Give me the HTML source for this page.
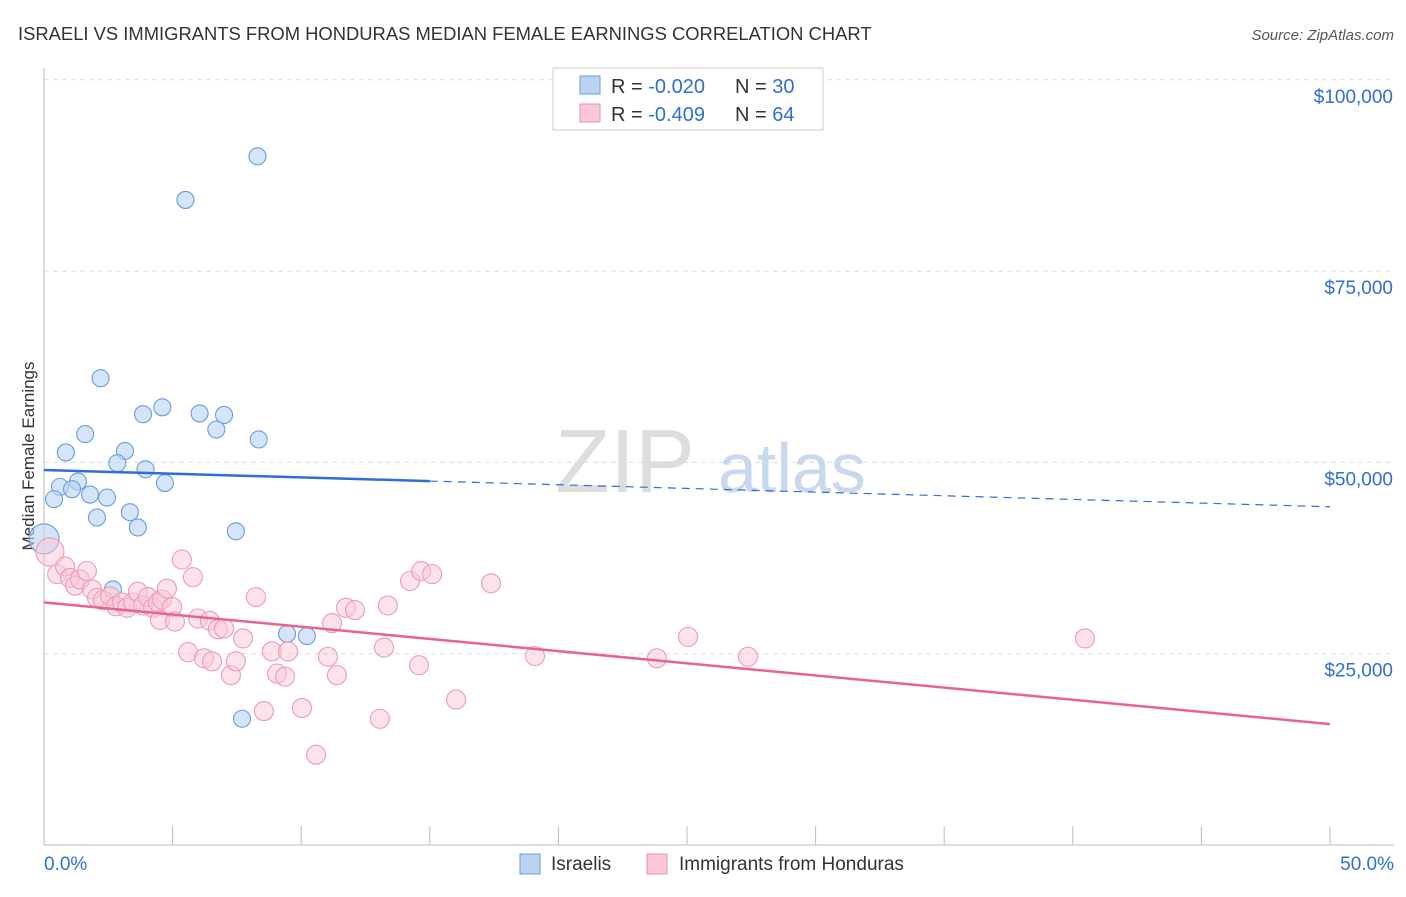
<!DOCTYPE html>
<html><head><meta charset="utf-8"><style>
body{margin:0;background:#fff;font-family:"Liberation Sans",sans-serif;}
svg text{font-family:"Liberation Sans",sans-serif;}
</style></head><body>
<svg id="chart" width="1406" height="892" viewBox="0 0 1406 892">
<text x="18" y="40" font-size="18.4" fill="#333">ISRAELI VS IMMIGRANTS FROM HONDURAS MEDIAN FEMALE EARNINGS CORRELATION CHART</text>
<text x="1394" y="40" font-size="15" fill="#555" font-style="italic" text-anchor="end">Source: ZipAtlas.com</text>
<text x="34" y="456" font-size="17" fill="#333" text-anchor="middle" transform="rotate(-90 34 456)">Median Female Earnings</text>
<g id="grid"></g>
<g id="axes"></g>
<text x="555" y="492" font-size="90" fill="#ddd" font-family="Liberation Serif">ZIP</text>
<text x="718" y="492" font-size="70" fill="#c8d8ee">atlas</text>
<g id="marks"></g>
<g>
<rect x="553" y="68" width="270" height="62" fill="#fff" stroke="#ccc"/>
<rect x="580" y="76" width="20" height="18" fill="#b9d3f3" stroke="#6a9bde"/>
<rect x="580" y="104" width="20" height="18" fill="#f9c7d5" stroke="#ec8fab"/>
<text x="611" y="93" font-size="20" fill="#333">R = <tspan fill="#2e6fd6">-0.020</tspan></text>
<text x="735" y="93" font-size="20" fill="#333">N = <tspan fill="#2e6fd6">30</tspan></text>
<text x="611" y="121" font-size="20" fill="#333">R = <tspan fill="#2e6fd6">-0.409</tspan></text>
<text x="735" y="121" font-size="20" fill="#333">N = <tspan fill="#2e6fd6">64</tspan></text>
</g>
<g>
<rect x="520" y="854" width="20" height="20" fill="#b9d3f3" stroke="#6a9bde"/>
<text x="551" y="870" font-size="19" fill="#333">Israelis</text>
<rect x="647" y="854" width="20" height="20" fill="#f9c7d5" stroke="#ec8fab"/>
<text x="679" y="870" font-size="19" fill="#333">Immigrants from Honduras</text>
</g>
</svg>
<script>
const yTicks=[25000,50000,75000,100000];
const yTickLabels=["$25,000","$50,000","$75,000","$100,000"];
const xTickLabels=["0.0%","50.0%"];
const blueX=[8.3,5.5,2.2,3.85,4.6,6.05,7.0,6.7,8.35,1.6,0.85,3.15,2.85,3.95,4.7,0.62,1.32,1.09,1.79,2.45,0.39,2.06,3.34,3.65,7.46,0.0,2.68,9.45,10.22,7.7];
const blueY=[90000,84300,61000,56300,57200,56400,56200,54300,53000,53700,51300,51500,49900,49100,47300,46800,47500,46500,45800,45400,45200,42800,43500,41500,41000,40000,33400,27600,27300,16500];
const pinkX=[0.23,0.51,0.82,1.01,1.21,1.4,1.67,1.87,2.06,2.29,2.57,2.8,3.03,3.23,3.46,3.65,3.85,4.04,4.24,4.43,4.59,4.78,4.98,4.51,5.09,5.36,5.79,5.6,5.99,6.22,6.45,6.53,6.76,7.0,7.27,7.46,7.74,8.24,8.55,8.86,9.06,9.37,9.49,10.03,10.58,11.04,11.2,11.39,11.74,12.09,13.06,13.22,13.37,14.23,14.58,14.66,15.09,16.02,17.38,19.09,23.83,25.04,27.37,40.47];
const pinkY=[38300,35400,36400,34900,33900,34700,35800,33400,32300,32000,32500,31200,31700,31000,31700,33100,31300,32400,31000,31700,32100,33500,31100,29400,29200,37300,35000,25200,29600,24400,29300,24000,28200,28300,22200,24000,27000,32400,17500,25300,22400,22000,25300,17900,11800,24600,29000,22200,31000,30700,16500,25800,31300,34500,23500,35800,35400,19000,34200,24700,24400,27200,24600,27000];
const pinkSize=[14,9.5,9.5,9.5,9.5,9.5,9.5,9.5,9.5,9.5,9.5,9.5,9.5,9.5,9.5,9.5,9.5,9.5,9.5,9.5,9.5,9.5,9.5,9.5,9.5,9.5,9.5,9.5,9.5,9.5,9.5,9.5,9.5,9.5,9.5,9.5,9.5,9.5,9.5,9.5,9.5,9.5,9.5,9.5,9.5,9.5,9.5,9.5,9.5,9.5,9.5,9.5,9.5,9.5,9.5,9.5,9.5,9.5,9.5,9.5,9.5,9.5,9.5,9.5];
const blueTrend=[49000,44200];
const pinkTrend=[31700,15800];
const X=v=>44+v/50*1286, Y=v=>845-v/25000*191.3;
const NS="http://www.w3.org/2000/svg";
function mk(tag,attrs,parent){const e=document.createElementNS(NS,tag);for(const k in attrs)e.setAttribute(k,attrs[k]);parent.appendChild(e);return e;}
const grid=document.getElementById('grid'),axes=document.getElementById('axes'),marks=document.getElementById('marks');
yTicks.forEach((t,i)=>{
 const l=mk('line',{x1:44,x2:1394,y1:Y(t),y2:Y(t),stroke:'#ddd','stroke-dasharray':'5,4'},grid);
 
 
 const tx=mk('text',{x:1393,y:Y(t)+23,'font-size':19,fill:'#2e6fd6','text-anchor':'end'},axes);
 tx.textContent=yTickLabels[i];
 
 
});
mk('line',{x1:44,x2:44,y1:68,y2:845,stroke:'#bbb'},axes);
mk('line',{x1:44,x2:1394,y1:845,y2:845,stroke:'#bbb'},axes);
for(let i=0;i<=10;i++){const p=X(i*5);mk('line',{x1:p,x2:p,y1:826,y2:845,stroke:'#bbb'},axes);}
[[44,'start'],[1394,'end']].forEach((a,i)=>{const t=mk('text',{x:a[0],y:870,'font-size':19,fill:'#2e6fd6','text-anchor':a[1]},axes);t.textContent=xTickLabels[i];
 
 });
blueX.forEach((x,i)=>{const c=mk('circle',{cx:X(x),cy:Y(blueY[i]),r:i==25?15:8.5,fill:'#b9d3f3','fill-opacity':0.6,stroke:'#6a9bde','stroke-width':1.1},marks);
 
 });
pinkX.forEach((x,i)=>{const c=mk('circle',{cx:X(x),cy:Y(pinkY[i]),r:pinkSize[i],fill:'#f9c7d5','fill-opacity':0.5,stroke:'#ef9ab4','stroke-width':1.1},marks);
 
 });
const bAt=x=>blueTrend[0]+(blueTrend[1]-blueTrend[0])*x/50;
let l1=mk('line',{x1:X(0),y1:Y(bAt(0)),x2:X(15),y2:Y(bAt(15)),stroke:'#2e6fd6','stroke-width':2.5},marks);


let l2=mk('line',{x1:X(15),y1:Y(bAt(15)),x2:X(50),y2:Y(bAt(50)),stroke:'#2e6fd6','stroke-width':1.2,'stroke-dasharray':'8,6'},marks);


let l3=mk('line',{x1:X(0),y1:Y(pinkTrend[0]),x2:X(50),y2:Y(pinkTrend[1]),stroke:'#e8648f','stroke-width':2.5},marks);


</script>
</body></html>
